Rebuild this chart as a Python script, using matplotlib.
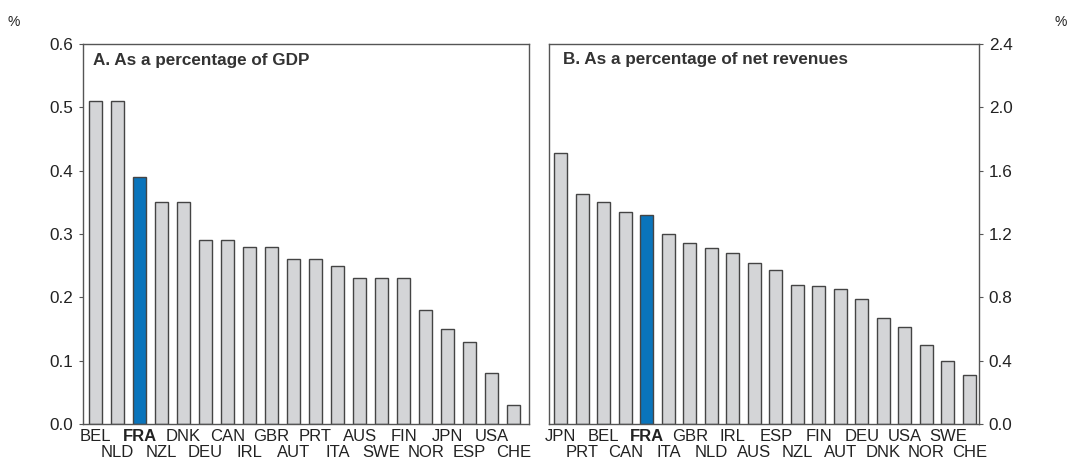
import matplotlib.pyplot as plt

plt.rcParams['font.family'] = ['Liberation Sans', 'DejaVu Sans']

gdp_countries = ['BEL', 'NLD', 'FRA', 'NZL', 'DNK', 'DEU', 'CAN', 'IRL', 'GBR', 'AUT',
                 'PRT', 'ITA', 'AUS', 'SWE', 'FIN', 'NOR', 'JPN', 'ESP', 'USA', 'CHE']
gdp_values = [0.51, 0.51, 0.39, 0.35, 0.35, 0.29, 0.29, 0.28, 0.28, 0.26,
              0.26, 0.25, 0.23, 0.23, 0.23, 0.18, 0.15, 0.13, 0.08, 0.03]

rev_countries = ['JPN', 'PRT', 'BEL', 'CAN', 'FRA', 'ITA', 'GBR', 'NLD', 'IRL', 'AUS',
                 'ESP', 'NZL', 'FIN', 'AUT', 'DEU', 'DNK', 'USA', 'NOR', 'SWE', 'CHE']
rev_values = [1.71, 1.45, 1.40, 1.34, 1.32, 1.20, 1.145, 1.11, 1.08, 1.02,
              0.975, 0.88, 0.87, 0.855, 0.79, 0.67, 0.61, 0.50, 0.40, 0.31]

gdp_ticks = [0.0, 0.1, 0.2, 0.3, 0.4, 0.5, 0.6]
rev_ticks = [0.0, 0.4, 0.8, 1.2, 1.6, 2.0, 2.4]

grey = '#d4d5d7'
blue = '#0a74bb'
edge = '#444444'
spine = '#555555'
txt = '#222222'


def colours(names):
    return [blue if n == 'FRA' else grey for n in names]


def draw_labels(ax, names):
    for i, n in enumerate(names):
        y = -0.012 if i % 2 == 0 else -0.056
        ax.text(i, y, n, transform=ax.get_xaxis_transform(), ha='center', va='top',
                fontsize=12, color=txt, fontweight='bold' if n == 'FRA' else 'normal')


fig = plt.figure(figsize=(10.71, 4.63), dpi=100)
ax1 = fig.add_axes([83 / 1071, 39 / 463, 446 / 1071, 380 / 463])
ax2 = fig.add_axes([549 / 1071, 39 / 463, 430 / 1071, 380 / 463])

ax1.bar(range(len(gdp_values)), gdp_values, width=0.6, color=colours(gdp_countries),
        edgecolor=edge, linewidth=1.0)
ax1.set_xlim(-0.57, 19.7)
ax1.set_ylim(0, 0.6)
ax1.set_yticks(gdp_ticks)
ax1.set_yticklabels(['%.1f' % t for t in gdp_ticks])
ax1.text(0.022, 0.975, 'A. As a percentage of GDP', transform=ax1.transAxes, ha='left', va='top',
         fontsize=12.3, fontweight='bold', color='#333333')
draw_labels(ax1, gdp_countries)

ax2.bar(range(len(rev_values)), rev_values, width=0.6, color=colours(rev_countries),
        edgecolor=edge, linewidth=1.0)
ax2.set_xlim(-0.55, 19.45)
ax2.set_ylim(0, 2.4)
ax2.yaxis.tick_right()
ax2.set_yticks(rev_ticks)
ax2.set_yticklabels(['%.1f' % t for t in rev_ticks])
ax2.text(0.032, 0.98, 'B. As a percentage of net revenues', transform=ax2.transAxes, ha='left',
         va='top', fontsize=12.3, fontweight='bold', color='#333333')
draw_labels(ax2, rev_countries)

for ax in (ax1, ax2):
    ax.set_xticks([])
    for s in ax.spines.values():
        s.set_color(spine)
        s.set_linewidth(1.0)
    ax.tick_params(axis='y', length=3, width=0.8, color=spine, labelsize=12.3,
                   labelcolor=txt, pad=4)

fig.text(8 / 1071, 1 - 22 / 463, '%', ha='left', va='center', fontsize=10, color=txt)
fig.text(1067 / 1071, 1 - 22 / 463, '%', ha='right', va='center', fontsize=10, color=txt)

plt.savefig('out.png', dpi=100)
